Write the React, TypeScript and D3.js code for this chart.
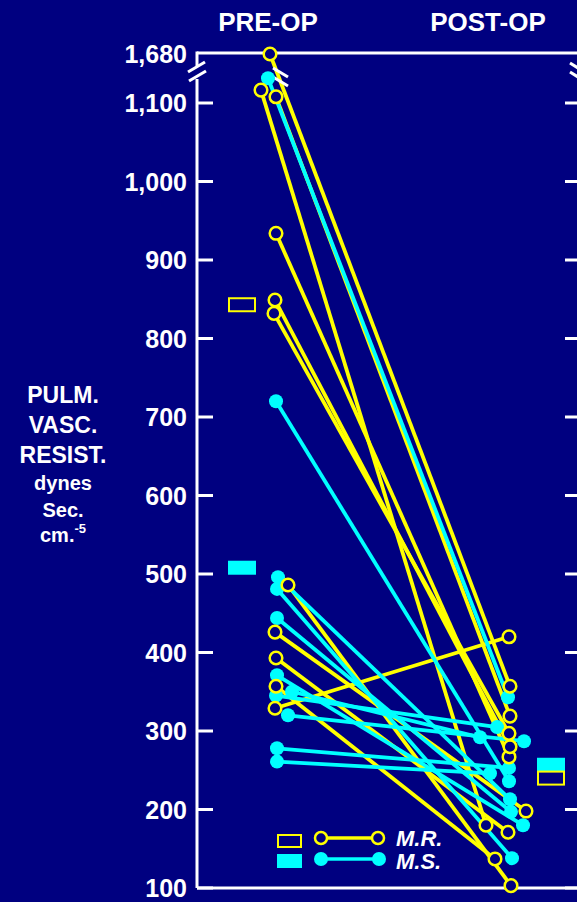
import React from 'react';
import * as d3 from 'd3';

// Pulmonary vascular resistance, pre-op vs post-op, paired per patient.
// M.R. = yellow open circles, M.S. = cyan filled circles. Rectangles = group means.

const phases = ['PRE-OP', 'POST-OP'];

const mrPre = [1680, 1125, 1112, 934, 849, 832, 486, 426, 393, 357, 329];
const mrPost = [357, 180, 319, 267, 280, 297, 103, 198, 171, 137, 420];
const mrPreJitter = [-5, -14, 1, 1, 0, -1, 13, 0, 1, 1, 0];
const mrPostJitter = [1, -23, 1, 0, 1, 0, 2, 17, -1, -14, 0];

const msPre = [1148, 720, 496, 481, 444, 371, 350, 345, 320, 278, 261];
const msPost = [343, 236, 213, 138, 197, 180, 292, 305, 287, 253, 246];
const msPreJitter = [-7, 1, 3, 2, 2, 2, 17, 1, 13, 2, 2];
const msPostJitter = [-1, 0, 1, 3, 2, 14, -29, -12, 15, 0, -19];

const mrMean = [843, 240];
const msMean = [508, 257];

const yTicks = [100, 200, 300, 400, 500, 600, 700, 800, 900, 1000, 1100, 1680];

const NAVY = '#000080';
const YELLOW = '#ffff00';
const CYAN = '#00ffff';

export default function App() {
  const W = 577;
  const H = 902;
  const left = 197;
  const right = 577;
  const top = 53;
  const bottom = 888;

  // broken axis: 100-1100 linear, then a squeezed segment up to 1680
  const y = d3.scaleLinear().domain([100, 1100, 1160, 1680]).range([bottom, 103, 72, 54]);
  const x = d3.scalePoint().domain(phases).range([275, 509]);
  const fmt = d3.format(',');
  const line = d3.line<[number, number]>();

  const pairs = (pre: number[], post: number[], jp: number[], jq: number[]) =>
    pre.map((v, i) => [
      [x('PRE-OP')! + jp[i], y(v)] as [number, number],
      [x('POST-OP')! + jq[i], y(post[i])] as [number, number],
    ]);

  const mr = pairs(mrPre, mrPost, mrPreJitter, mrPostJitter);
  const ms = pairs(msPre, msPost, msPreJitter, msPostJitter);

  const meanX = [x('PRE-OP')! - 33, x('POST-OP')! + 42];

  return (
    <svg width={W} height={H} style={{ display: 'block', background: NAVY }} fontFamily="Liberation Sans, Arial, sans-serif">
      <style>{'body{margin:0;background:#000080}'}</style>
      <rect width={W} height={H} fill={NAVY} />

      {/* column headings */}
      <text x={268} y={31} fill="#fff" fontSize={26} fontWeight="bold" textAnchor="middle">PRE-OP</text>
      <text x={488} y={31} fill="#fff" fontSize={26} fontWeight="bold" textAnchor="middle">POST-OP</text>

      {/* y axis title */}
      <g fill="#fff" fontWeight="bold" textAnchor="middle">
        <text x={63} y={403} fontSize={23}>PULM.</text>
        <text x={63} y={433} fontSize={23}>VASC.</text>
        <text x={63} y={463} fontSize={23}>RESIST.</text>
        <text x={63} y={490} fontSize={20}>dynes</text>
        <text x={63} y={517} fontSize={20}>Sec.</text>
        <text x={63} y={542} fontSize={20}>
          cm.<tspan fontSize={13} dy={-9}>-5</tspan>
        </text>
      </g>

      {/* frame */}
      <g stroke="#fff" strokeWidth={3} fill="none">
        <line x1={left} x2={right} y1={top} y2={top} />
        <line x1={left} x2={right} y1={bottom} y2={bottom} />
        <line x1={left} x2={left} y1={top - 1.5} y2={66} />
        <line x1={left} x2={left} y1={79} y2={bottom} />
        {yTicks.filter((t) => t !== 1680).map((t) => (
          <g key={t}>
            <line x1={left} x2={left + 16} y1={y(t)} y2={y(t)} />
            <line x1={right - 12} x2={right} y1={y(t)} y2={y(t)} />
          </g>
        ))}
        {/* break marks */}
        <line x1={188} x2={205} y1={72} y2={62} />
        <line x1={189} x2={206} y1={81} y2={71} />
        <line x1={570} x2={578} y1={63} y2={68} />
        <line x1={570} x2={578} y1={72} y2={77} />
      </g>

      {yTicks.map((t) => (
        <text key={t} x={187} y={y(t)} dy="0.36em" fill="#fff" fontSize={25} fontWeight="bold" textAnchor="end">
          {fmt(t)}
        </text>
      ))}

      {/* connecting lines */}
      <g fill="none" strokeWidth={3.8}>
        {mr.map((p, i) => <path key={'mr' + i} d={line(p)!} stroke={YELLOW} />)}
        {ms.map((p, i) => <path key={'ms' + i} d={line(p)!} stroke={CYAN} />)}
      </g>

      {/* break marks over the top lines */}
      <g stroke="#fff" strokeWidth={3}>
        <line x1={273} x2={288} y1={68} y2={77} />
        <line x1={273} x2={288} y1={77} y2={86} />
      </g>

      {/* points */}
      {ms.map((p, i) => (
        <g key={'msc' + i} fill={CYAN}>
          <circle cx={p[0][0]} cy={p[0][1]} r={7} />
          <circle cx={p[1][0]} cy={p[1][1]} r={7} />
        </g>
      ))}
      {mr.map((p, i) => (
        <g key={'mrc' + i} fill={NAVY} stroke={YELLOW} strokeWidth={2.5}>
          <circle cx={p[0][0]} cy={p[0][1]} r={6.3} />
          <circle cx={p[1][0]} cy={p[1][1]} r={6.3} />
        </g>
      ))}

      {/* group means */}
      {phases.map((ph, i) => (
        <g key={ph}>
          <rect x={meanX[i] - 14} y={y(msMean[i]) - 7} width={28} height={14} fill={CYAN} />
          <rect x={meanX[i] - 13} y={y(mrMean[i]) - 6.5} width={26} height={13} fill={NAVY} stroke={YELLOW} strokeWidth={2} />
        </g>
      ))}

      {/* legend */}
      <g>
        <rect x={278} y={835} width={23} height={12} fill={NAVY} stroke={YELLOW} strokeWidth={2} />
        <line x1={321} x2={378} y1={838} y2={838} stroke={YELLOW} strokeWidth={3.5} />
        <circle cx={321} cy={838} r={6} fill={NAVY} stroke={YELLOW} strokeWidth={2.5} />
        <circle cx={378} cy={838} r={6} fill={NAVY} stroke={YELLOW} strokeWidth={2.5} />
        <text x={396} y={846} fill="#fff" fontSize={22} fontWeight="bold" fontStyle="italic">M.R.</text>

        <rect x={277} y={854} width={25} height={14} fill={CYAN} />
        <line x1={321} x2={379} y1={859} y2={859} stroke={CYAN} strokeWidth={3.5} />
        <circle cx={321} cy={859} r={7} fill={CYAN} />
        <circle cx={379} cy={859} r={7} fill={CYAN} />
        <text x={396} y={869} fill="#fff" fontSize={22} fontWeight="bold" fontStyle="italic">M.S.</text>
      </g>
    </svg>
  );
}
